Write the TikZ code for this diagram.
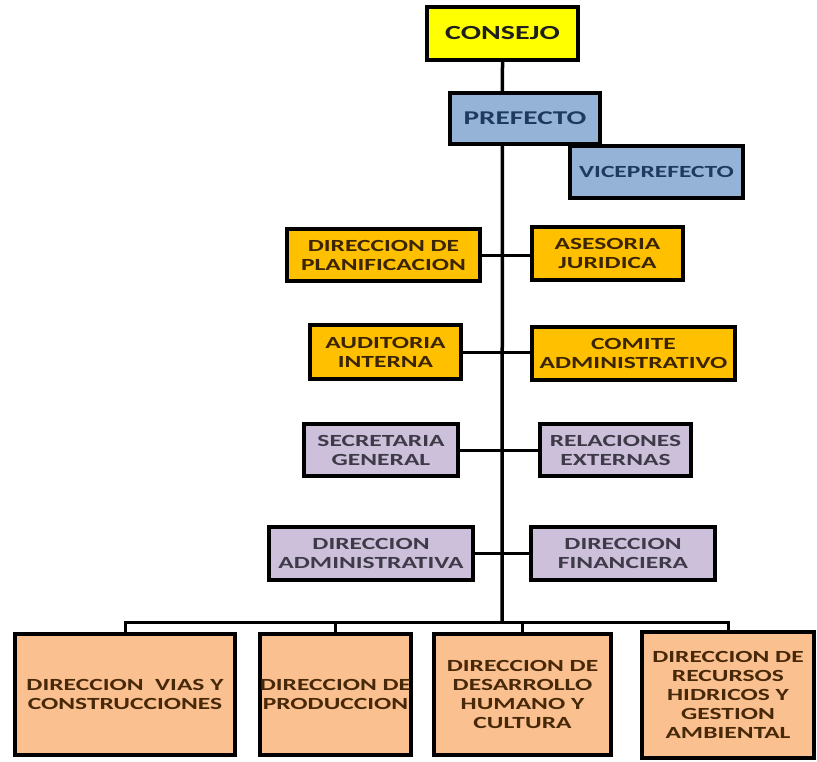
\documentclass[tikz,border=0pt]{standalone}
\usepackage{fontspec}
\newfontfamily\boxfont[FakeStretch=1.5]{Carlito}
\usetikzlibrary{shadows,backgrounds}
\definecolor{cyellow}{HTML}{FFFF00}
\definecolor{cblue}{HTML}{95B3D7}
\definecolor{corange}{HTML}{FFC000}
\definecolor{clav}{HTML}{CCC0DA}
\definecolor{cpeach}{HTML}{FAC090}
\definecolor{tdark}{HTML}{1E1E1E}
\definecolor{tnavy}{HTML}{1F3A5F}
\definecolor{tbrown}{HTML}{3B2400}
\definecolor{tgray}{HTML}{3E3A48}
\definecolor{tpeach}{HTML}{472808}
\tikzset{
  unit/.style={draw=black, line width=4pt, inner sep=0pt, align=center,
    font=\boxfont\bfseries\fontsize{17}{19}\selectfont,
    drop shadow={opacity=0.25, shadow xshift=2pt, shadow yshift=-2pt}},
  top/.style={unit, fill=cyellow, text=tdark, font=\boxfont\bfseries\fontsize{20}{22}\selectfont},
  head/.style={unit, fill=cblue, text=tnavy},
  advice/.style={unit, fill=corange, text=tbrown},
  support/.style={unit, fill=clav, text=tgray},
  dept/.style={unit, fill=cpeach, text=tpeach},
  link/.style={line width=3pt, draw=black},
}
\begin{document}
\begin{tikzpicture}[x=1pt,y=-1pt]
\useasboundingbox (0,0) rectangle (817,761);

\coordinate (bar) at (502,622);

% upper levels
\node[top, minimum width=151pt, minimum height=53pt] (consejo) at (502.5,33.5) {CONSEJO};
\node[head, minimum width=150pt, minimum height=51pt,
      font=\boxfont\bfseries\fontsize{19.5}{22}\selectfont] (prefecto) at (525,118.5) {PREFECTO};
\node[head, minimum width=173pt, minimum height=52pt] (vice) at (656.5,172) {VICEPREFECTO};

% advisory units
\node[advice, minimum width=193pt, minimum height=52pt] (planif) at (383.5,255) {DIRECCION DE\\PLANIFICACION};
\node[advice, minimum width=151pt, minimum height=53pt] (asesoria) at (607.5,253.5) {ASESORIA\\JURIDICA};
\node[advice, minimum width=151pt, minimum height=54pt] (auditoria) at (385.5,352) {AUDITORIA\\INTERNA};
\node[advice, minimum width=203pt, minimum height=53pt] (comite) at (633.5,353.5) {COMITE\\ADMINISTRATIVO};

% support units
\node[support, minimum width=154pt, minimum height=52pt] (secretaria) at (381,450) {SECRETARIA\\GENERAL};
\node[support, minimum width=151pt, minimum height=52pt] (relaciones) at (615.5,450) {RELACIONES\\EXTERNAS};
\node[support, minimum width=204pt, minimum height=53pt] (diradm) at (371,553.5) {DIRECCION\\ADMINISTRATIVA};
\node[support, minimum width=184pt, minimum height=53pt] (dirfin) at (623,553.5) {DIRECCION\\FINANCIERA};

% operational departments
\node[dept, minimum width=220pt, minimum height=121pt] (vias) at (125,694.5) {DIRECCION\ \ VIAS Y\\CONSTRUCCIONES};
\node[dept, minimum width=149pt, minimum height=121pt] (prod) at (335.5,694.5) {DIRECCION DE\\PRODUCCION};
\node[dept, minimum width=177pt, minimum height=121pt] (desarrollo) at (522.5,694.5) {DIRECCION DE\\DESARROLLO\\HUMANO Y\\CULTURA};
\node[dept, minimum width=172pt, minimum height=126pt] (hidricos) at (728,695) {DIRECCION DE\\RECURSOS\\HIDRICOS Y\\GESTION\\AMBIENTAL};

% connectors, kept behind the boxes
\begin{pgfonlayer}{background}
\fill[white] (0,0) rectangle (817,761);
\draw[link, line width=3.5pt] (consejo.south) -- (bar);
\draw[link] (planif.east) -- (planif.east -| asesoria.west);
\draw[link] (auditoria.east) -- (auditoria.east -| comite.west);
\draw[link] (secretaria.east) -- (secretaria.east -| relaciones.west);
\draw[link] (diradm.east) -- (diradm.east -| dirfin.west);
\draw[link] (vias.north) |- (bar) -| (hidricos.north);
\draw[link] (prod.north) -- (prod.north |- bar);
\draw[link] (desarrollo.north) -- (desarrollo.north |- bar);
\end{pgfonlayer}
\end{tikzpicture}
\end{document}
